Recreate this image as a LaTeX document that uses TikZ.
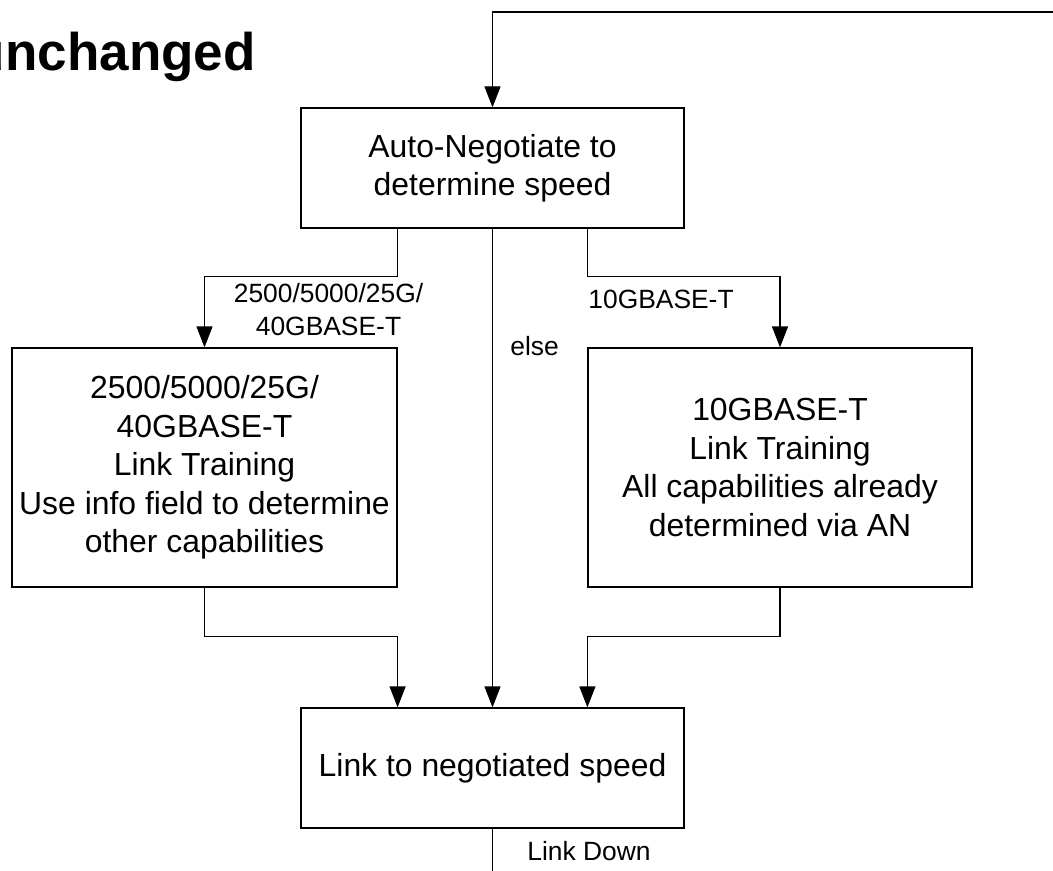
\documentclass[tikz,border=0pt]{standalone}
\usepackage{fontspec}
\setmainfont{Liberation Sans}
\usetikzlibrary{arrows.meta,calc}
\tikzset{
  box/.style={draw, line width=0.6pt, align=center, inner sep=0pt,
              font=\fontsize{15.95}{19.2}\selectfont},
  lbl/.style={inner sep=0pt, font=\fontsize{13.2}{16.5}\selectfont},
  flow/.style={line width=0.6pt, -{Triangle[length=10.5pt,width=8pt]}}
}
\begin{document}
\begin{tikzpicture}[x=0.5pt, y=-0.5pt]
            \useasboundingbox (0,0) rectangle (1053,871);
            \node[anchor=base east, inner sep=0pt, font=\fontsize{26.5}{31}\selectfont\bfseries] (title) at (256,71) {unchanged};
            % boxes
            \node[box, minimum width=383pt*0.5, minimum height=120pt*0.5] (an) at (492.5,168) {Auto-Negotiate to\\determine speed};
            \node[box, minimum width=385pt*0.5, minimum height=239pt*0.5] (lt) at (204.5,467.5) {2500/5000/25G/\\40GBASE-T\\Link Training\\Use info field to determine\\other capabilities};
            \node[box, minimum width=384pt*0.5, minimum height=239pt*0.5] (tt) at (780,467.5) {10GBASE-T\\Link Training\\All capabilities already\\determined via AN};
            \node[box, minimum width=383pt*0.5, minimum height=120pt*0.5] (link) at (492.5,768) {Link to negotiated speed};
            \coordinate (loop) at (1053,12);
            \coordinate (down) at (492.5,880);
            % connectors
            \draw[flow] (loop) -| (an.north);
            \draw[flow] (an.south -| lt.east) -- ++(0,48) -| (lt.north);
            \draw[flow] (an.south) -- (link.north);
            \draw[flow] (an.south -| tt.west) -- ++(0,48) -| (tt.north);
            \draw[flow] (lt.south) -- ++(0,49) -| (link.north -| lt.east);
            \draw[flow] (tt.south) -- ++(0,49) -| (link.north -| tt.west);
            \draw[line width=0.6pt] (link.south) -- (down);
            % labels
            \node[lbl, align=center] (l1) at (328.5,310) {2500/5000/25G/\\40GBASE-T};
            \node[lbl, anchor=base west] (l2) at (588,308) {10GBASE-T};
            \node[lbl, anchor=base west] (l3) at (510,355) {else};
            \node[lbl, anchor=base west] (l4) at (527,860) {Link Down};
\end{tikzpicture}
\end{document}
